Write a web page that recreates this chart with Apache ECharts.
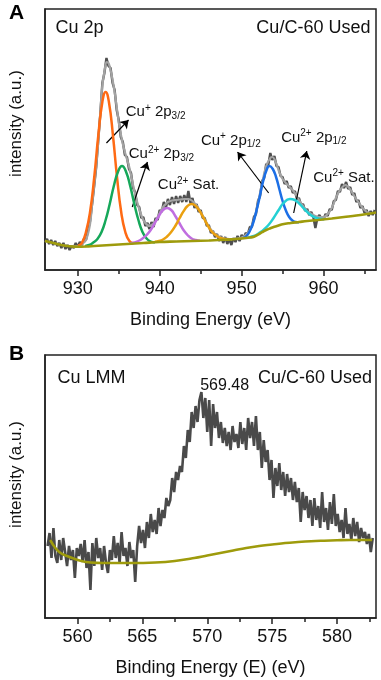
<!DOCTYPE html>
<html><head><meta charset="utf-8">
<script src="https://cdn.jsdelivr.net/npm/echarts@6/dist/echarts.min.js"></script>
<style>html,body{margin:0;padding:0;background:#fff}#c{width:381px;height:680px}</style>
</head><body><div id="c"></div>
<script>
// ---------- Panel A : Cu 2p ----------
const cu2pStart = 926.0, cu2pStep = 0.25;
const cu2pCounts = [
28,31,26,30,25,29,24,27,22,27,21,25,20,24,22,27,23,
28,25,31,30,40,49,66,84,103,130,156,187,197,212,204,202,187,180,160,
150,133,128,115,113,101,97,82,78,65,63,52,53,44,47,41,48,43,52,50,
60,58,68,62,71,65,73,66,74,67,74,68,75,68,79,67,72,62,66,58,
60,52,52,44,45,37,39,33,36,29,34,27,33,26,31,25,32,28,34,29,
35,32,37,36,43,43,53,56,69,74,89,92,106,105,117,110,114,104,103,94,
93,86,89,82,84,77,79,71,72,65,66,59,61,55,58,53,42,52,55,51,
51,56,54,61,60,69,70,79,78,86,82,88,81,83,75,77,68,70,62,64,
57,60,54,59,55,60];
const cu2pEnvelope = [[926,29],[927,27],[928,25],[929,24],[930,24],[930.5,26],[931,30],[931.5,46],[931.75,66],[932,84],[932.25,104],[932.5,128],[932.75,157],[933,185],[933.25,198],[933.5,208],[933.75,207],[934,200],[934.25,190],[934.5,178],[934.75,163],[935,148],[935.25,136],[935.5,126],[935.75,118],[936,111],[936.25,104],[936.5,95],[936.75,85],[937,76],[937.25,68],[937.5,61],[937.75,55],[938,50],[938.25,47],[938.5,45],[938.75,44],[939,45],[939.25,46.5],[939.5,49],[939.75,53],[940,57],[940.25,61],[940.5,64],[940.75,66],[941,68],[941.5,69.5],[942,70],[942.5,70.5],[943,71],[943.5,71],[944,69],[944.5,64.5],[945,58],[945.5,50.5],[946,43.5],[946.5,38],[947,34.5],[947.5,32.5],[948,31.5],[948.5,31],[949,31],[949.5,31.5],[950,32.5],[950.5,35],[951,40],[951.5,50],[952,67],[952.5,87],[953,104],[953.5,112],[953.75,113],[954,111],[954.25,106],[954.5,100],[954.75,95],[955,91],[955.5,86],[956,82],[956.5,77],[957,70],[957.5,64],[958,59],[958.5,56],[959,54],[959.5,53],[960,53],[960.5,56],[961,62],[961.5,72],[962,80],[962.7,85],[963.3,80],[963.9,72],[964.5,65],[965,60],[965.5,57],[966.3,57]];
const cuPlus2p32 = [[930.0,24],[930.5,27],[931.0,38],[931.5,58],[932.0,92],[932.5,134],[933.0,168],[933.4,178],[933.8,168],[934.3,134],[934.8,92],[935.3,58],[935.8,38],[936.3,29],[936.8,26.5]];
const cu2Plus2p32 = [[930.9,24],[931.4,25],[931.9,27.5],[932.4,31],[932.9,38],[933.4,50],[933.9,66],[934.4,84],[934.9,98],[935.4,104],[935.9,98],[936.4,84],[936.9,66],[937.4,50],[937.9,38],[938.4,31.5],[938.9,28.5],[939.4,27.5]];
const cu2PlusSat1 = [[936.4,26.5],[936.9,27.5],[937.4,29],[937.9,31.5],[938.4,35],[938.9,40],[939.4,47],[939.9,54],[940.4,60],[940.9,62],[941.4,60],[941.9,54],[942.4,47],[942.9,40],[943.4,35],[943.9,31.5],[944.4,30],[944.9,29.3]];
const cu2PlusSat2 = [[939.4,28.3],[939.9,29],[940.4,30.5],[940.9,33.5],[941.4,38],[941.9,44],[942.4,51.5],[942.9,58.6],[943.4,64],[943.9,66],[944.4,64],[944.9,58.6],[945.4,51.5],[945.9,44],[946.4,38],[946.9,34.5],[947.4,32],[947.9,31],[948.4,30.7]];
const cuPlus2p12 = [[950.2,32],[950.6,34],[951.0,39],[951.4,47],[951.8,59],[952.2,73],[952.6,88],[953.0,99],[953.4,104],[953.8,101],[954.2,93],[954.6,81],[955.0,69],[955.4,59.5],[955.8,53],[956.2,49.5],[956.6,48],[957.0,47.8]];
const cu2Plus2p12 = [[950.8,32.5],[951.5,34],[952.1,36.8],[952.7,40.3],[953.3,45.2],[953.9,52],[954.5,59.7],[955.1,66.9],[955.9,71],[956.5,70],[957.1,65.8],[957.7,60.5],[958.3,55.8],[958.9,52.8],[959.5,51.2],[960.1,50.8]];
const cu2pBackground = [[926,29],[927,27],[928,25],[929,23.8],[930,23.3],[931,23.5],[932,24],[934,25],[936,26],[938,27],[940,28],[942,28.5],[944,29],[946,29.5],[948,30.2],[949,30.8],[950,31.5],[951,32.5],[951.5,33.3],[952,35.3],[952.5,37.8],[953,40],[953.5,41.7],[954,43.2],[954.5,44.5],[955,45.8],[956,47],[957,48],[958,49],[959.3,50],[961,51.5],[962.5,53],[964,54.5],[966.4,57.5]];
const cu2pTicks = [930, 940, 950, 960];
const cu2pMinorTicks = [935, 945, 955, 965];

// ---------- Panel B : Cu LMM ----------
const lmmStart = 557.7, lmmStep = 0.15;
const lmmCounts = [
72,85,60,90,62,55,78,58,80,66,52,72,58,68,40,70,62,74,56,78,
50,66,28,75,52,80,60,70,48,72,55,45,68,58,82,60,75,55,86,62,
70,52,76,60,68,36,72,92,75,88,70,96,80,104,86,98,84,110,92,108,
100,120,112,118,140,126,146,138,152,146,172,160,188,176,206,190,212,196,218,226,
200,220,186,218,172,214,190,206,180,196,175,190,172,186,168,192,176,184,170,196,
174,190,168,200,180,196,172,202,168,186,150,178,156,168,138,158,120,150,132,155,
128,146,122,144,126,140,118,136,116,130,96,126,108,122,100,118,92,120,98,112,
90,126,96,110,88,116,94,124,92,104,86,98,80,110,84,94,78,100,82,96,
76,90,80,86,74,84,66,80];
const lmmBackground = [[557.9,78],[558.3,70],[558.7,65],[559.2,62],[559.7,59.5],[560.3,57],[561,55.5],[562,55],[564,55],[566,55.5],[567.5,57],[569,60],[570,62.5],[571,65],[572,67.5],[573,70],[574,72],[575,73.5],[576,75],[577,76],[578,76.8],[579,77.3],[580,77.7],[581,78],[582.7,78]];
const lmmTicks = [560, 565, 570, 575, 580];
const lmmMinorTicks = [562.5, 567.5, 572.5, 577.5, 582.5];

// ---------- Annotations (data coordinates) ----------
const annotA = [
  {coord:[927.22,242], text:'{b|Cu 2p}', side:'right'},
  {coord:[965.78,242], text:'{b|Cu/C-60 Used}', side:'left'},
  {coord:[935.79,158], text:'{n|Cu}{sp|+}{n| 2p}{sb|3/2}', side:'right'},
  {coord:[936.16,116], text:'{n|Cu}{sp|2+}{n| 2p}{sb|3/2}', side:'right'},
  {coord:[939.71,85], text:'{n|Cu}{sp|2+}{n| Sat.}', side:'right'},
  {coord:[944.97,129.5], text:'{n|Cu}{sp|+}{n| 2p}{sb|1/2}', side:'right'},
  {coord:[954.76,132.5], text:'{n|Cu}{sp|2+}{n| 2p}{sb|1/2}', side:'right'},
  {coord:[958.68,92.5], text:'{n|Cu}{sp|2+}{n| Sat.}', side:'right'}
];
const arrowsA = [
  [[933.5,127],[936.2,150]],
  [[936.65,63],[938.5,108]],
  [[953.3,77],[949.5,118]],
  [[956.35,57],[957.95,119]]
];
const annotB = [
  {coord:[558.42,240], text:'{b|Cu LMM}', side:'right'},
  {coord:[569.42,232], text:'{m|569.48}', side:'right'},
  {coord:[582.73,240], text:'{b|Cu/C-60 Used}', side:'left'}
];

const FONT = '"Liberation Sans", Arial, Helvetica, sans-serif';
const TXT = '#111';
const AX = '#222';

function toPairs(start, step, vals){ return vals.map((v,i)=>[+(start+i*step).toFixed(3), v]); }

const rich = {
  b: {fontSize:18, fontFamily:FONT, color:TXT, lineHeight:20},
  m: {fontSize:16, fontFamily:FONT, color:TXT, lineHeight:18},
  n: {fontSize:15, fontFamily:FONT, color:TXT, lineHeight:18},
  sp: {fontSize:10, fontFamily:FONT, color:TXT, lineHeight:10, verticalAlign:'top'},
  sb: {fontSize:10, fontFamily:FONT, color:TXT, lineHeight:8, verticalAlign:'bottom'}
};

function markPoints(list){
  return {
    silent:true, animation:false,
    symbol:'rect', symbolSize:1, itemStyle:{color:'rgba(0,0,0,0)'},
    data: list.map(a=>({coord:a.coord, label:{show:true, position:a.side, distance:0, formatter:a.text, rich:rich}}))
  };
}

function xMain(gi, min, max, ticks, name){
  return {gridIndex:gi, type:'value', min:min, max:max, position:'bottom',
    axisLine:{show:true, onZero:false, lineStyle:{color:AX, width:1.5}},
    axisTick:{show:true, length:6, lineStyle:{color:AX, width:1.5}, customValues:ticks},
    axisLabel:{show:true, customValues:ticks, margin:10, fontSize:18, color:TXT, fontFamily:FONT},
    splitLine:{show:false},
    name:name, nameLocation:'middle', nameGap:41,
    nameTextStyle:{fontSize:18, color:TXT, fontFamily:FONT}};
}
function xMinor(gi, min, max, ticks){
  return {gridIndex:gi, type:'value', min:min, max:max, position:'bottom',
    axisLine:{show:false},
    axisTick:{show:true, length:4, lineStyle:{color:AX, width:1.5}, customValues:ticks},
    axisLabel:{show:false}, splitLine:{show:false}};
}
function yAx(gi, max, pad){
  return {gridIndex:gi, type:'value', min:0, max:max,
    axisLine:{show:true, onZero:false, lineStyle:{color:AX, width:1.5}},
    axisTick:{show:false}, axisLabel:{show:false}, splitLine:{show:false},
    name:'intensity (a.u.)', nameLocation:'middle', nameGap:20,
    nameTextStyle:{fontSize:17, color:TXT, fontFamily:FONT, padding:[0,0,0,pad]}};
}
function line(xi, yi, data, color, width, z, smooth){
  return {type:'line', xAxisIndex:xi, yAxisIndex:yi, data:data, showSymbol:false, symbol:'none',
    smooth:smooth, lineStyle:{color:color, width:width}, itemStyle:{color:color}, z:z, silent:true, animation:false};
}

const chart = echarts.init(document.getElementById('c'), null, {renderer:'canvas'});

const bgA = line(0,0,cu2pBackground,'#9e9b0c',2.6,9,0.4);
bgA.markPoint = markPoints(annotA);
bgA.markLine = {silent:true, animation:false, symbol:['none','arrow'], symbolSize:8,
  label:{show:false}, lineStyle:{color:'#000', width:1.2, type:'solid'},
  data: arrowsA.map(a=>[{coord:a[0]},{coord:a[1]}])};

const bgB = line(2,1,lmmBackground,'#9e9b0c',2.6,9,0.4);
bgB.markPoint = markPoints(annotB);

chart.setOption({
  animation:false,
  backgroundColor:'#fff',
  title:[
    {text:'A', left:9, top:3, padding:0, textStyle:{fontSize:21, fontWeight:'bold', color:'#000', fontFamily:FONT}},
    {text:'B', left:9, top:344, padding:0, textStyle:{fontSize:21, fontWeight:'bold', color:'#000', fontFamily:FONT}}
  ],
  grid:[
    {left:45, top:9, width:331, height:261, show:true, borderColor:AX, borderWidth:1.5, backgroundColor:'rgba(0,0,0,0)'},
    {left:45, top:355, width:331, height:263, show:true, borderColor:AX, borderWidth:1.5, backgroundColor:'rgba(0,0,0,0)'}
  ],
  xAxis:[
    xMain(0, 926, 966.4, cu2pTicks, 'Binding Energy (eV)'),
    xMinor(0, 926, 966.4, cu2pMinorTicks),
    xMain(1, 557.5, 583, lmmTicks, 'Binding Energy (E) (eV)'),
    xMinor(1, 557.5, 583, lmmMinorTicks)
  ],
  yAxis:[ yAx(0, 261, 32), yAx(1, 263, 24) ],
  series:[
    line(0,0,toPairs(cu2pStart,cu2pStep,cu2pCounts),'#4f4f4f',2.4,2,false),
    line(0,0,cu2pEnvelope,'#a3a3a3',2.2,3,0.3),
    line(0,0,cuPlus2p32,'#ff6a14',2.5,5,0.5),
    line(0,0,cu2Plus2p32,'#16a85a',2.5,5,0.5),
    line(0,0,cu2PlusSat1,'#c06ee0',2.5,5,0.5),
    line(0,0,cu2PlusSat2,'#eaa010',2.5,5,0.5),
    line(0,0,cuPlus2p12,'#1c6fe6',2.5,5,0.5),
    line(0,0,cu2Plus2p12,'#24d0d4',2.5,5,0.5),
    bgA,
    line(2,1,toPairs(lmmStart,lmmStep,lmmCounts),'#4a4a4a',2.6,2,false),
    bgB
  ]
});
</script>
</body></html>
